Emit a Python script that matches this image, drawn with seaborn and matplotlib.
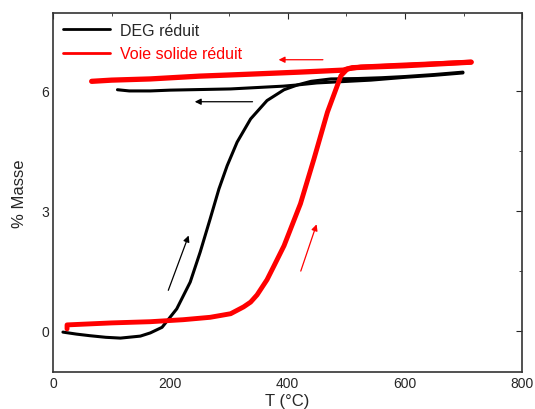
import matplotlib
matplotlib.use("Agg")
import matplotlib.pyplot as plt
import numpy as np
import seaborn as sns

# DEG réduit : montée puis descente en température
deg_T_up = [17, 40, 63, 90, 115, 149, 166, 186, 211, 234, 251, 268, 283, 297, 314, 337, 365, 394, 417, 440, 474, 520, 560, 600, 650, 699]
deg_m_up = [-0.03, -0.08, -0.12, -0.16, -0.18, -0.13, -0.05, 0.09, 0.55, 1.22, 1.97, 2.8, 3.55, 4.13, 4.72, 5.3, 5.76, 6.03, 6.15, 6.24, 6.3, 6.31, 6.33, 6.36, 6.41, 6.47]
deg_T_down = [699, 650, 600, 542, 450, 417, 393, 303, 200, 166, 130, 110]
deg_m_down = [6.45, 6.39, 6.34, 6.27, 6.2, 6.15, 6.12, 6.05, 6.02, 6.0, 6.0, 6.03]

# Voie solide réduit
vs_T_up = [24, 24, 100, 166, 222, 268, 303, 325, 337, 348, 365, 377, 394, 422, 445, 468, 491, 502, 525, 600, 650, 713]
vs_m_up = [0.05, 0.15, 0.2, 0.23, 0.28, 0.34, 0.43, 0.6, 0.72, 0.9, 1.28, 1.63, 2.13, 3.18, 4.3, 5.47, 6.38, 6.55, 6.6, 6.65, 6.68, 6.72]
vs_T_down = [713, 650, 600, 525, 510, 495, 420, 337, 303, 250, 166, 100, 66]
vs_m_down = [6.72, 6.67, 6.63, 6.59, 6.58, 6.52, 6.47, 6.42, 6.4, 6.37, 6.3, 6.27, 6.24]

# flèches (départ, arrivée, couleur)
arrows = [
    ((345, 5.73), (237, 5.73), "black"),
    ((465, 6.78), (380, 6.78), "red"),
    ((195, 0.95), (233, 2.45), "black"),
    ((421, 1.43), (451, 2.73), "red"),
]

sns.set_style("white")
plt.rcParams['font.family'] = ['Liberation Sans', 'DejaVu Sans']

fig = plt.figure(figsize=(5.35, 4.1), dpi=100)
ax = fig.add_axes([0.099, 0.090, 0.877, 0.876])

sns.lineplot(x=deg_T_up, y=deg_m_up, sort=False, estimator=None, color="black", linewidth=2.2, ax=ax, label="DEG réduit")
sns.lineplot(x=deg_T_down, y=deg_m_down, sort=False, estimator=None, color="black", linewidth=2.2, ax=ax)
sns.lineplot(x=vs_T_up, y=vs_m_up, sort=False, estimator=None, color="red", linewidth=3.5, ax=ax, label="Voie solide réduit")
sns.lineplot(x=vs_T_down, y=vs_m_down, sort=False, estimator=None, color="red", linewidth=3.8, ax=ax)

for start, end, c in arrows:
    ax.annotate("", xy=end, xytext=start,
                arrowprops=dict(arrowstyle="-|>", color=c, lw=0.9, mutation_scale=9))

ax.set_xlim(0, 800)
ax.set_ylim(-1.03, 7.95)
ax.set_xticks([0, 200, 400, 600, 800])
ax.set_xticks([100, 300, 500, 700], minor=True)
ax.set_yticks([0, 3, 6])
ax.set_yticks([1.5, 4.5], minor=True)
ax.tick_params(which="both", direction="in", top=True, right=True, labelsize=10, pad=3)
ax.tick_params(which="major", length=4)
ax.tick_params(which="minor", length=2.5)
for s in ax.spines.values():
    s.set_color("#333333")
    s.set_linewidth(1.2)

ax.set_xlabel("T (°C)", fontsize=12, labelpad=2)
ax.set_ylabel("% Masse", fontsize=12, labelpad=10)

leg = ax.legend(loc="upper left", frameon=False, fontsize=11.5, handlelength=3.0,
                handletextpad=0.6, borderaxespad=0.2, labelspacing=0.55)
for line in leg.get_lines():
    line.set_linewidth(2)
leg.get_texts()[1].set_color("red")

fig.savefig("out.png", dpi=100)
